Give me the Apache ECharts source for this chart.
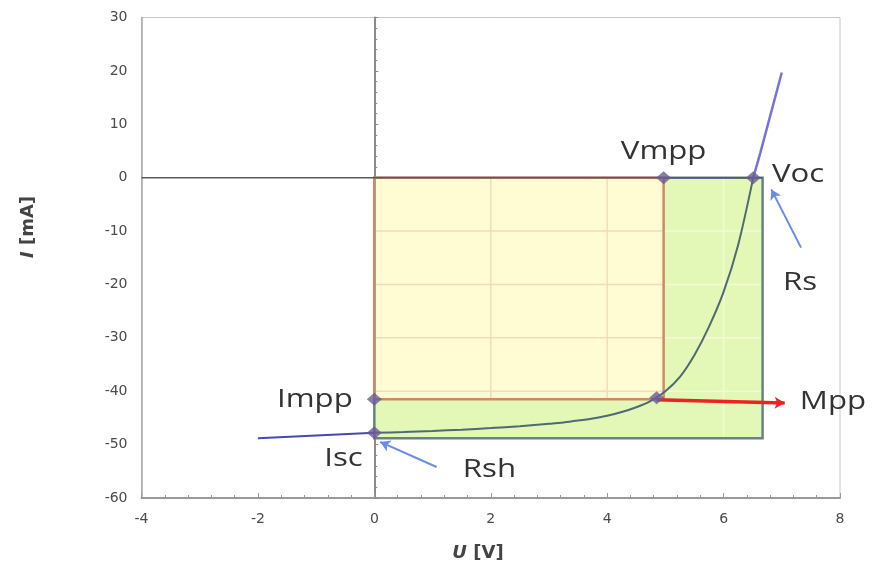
<!DOCTYPE html>
<html><head><meta charset="utf-8">
<script src="https://cdn.jsdelivr.net/npm/echarts@6/dist/echarts.min.js"></script>
<style>html,body{margin:0;padding:0;background:#fff}#c{width:878px;height:570px}</style>
</head><body><div id="c"></div>
<script>
// ---- data ----
const Voc = 6.51, Vmpp = 4.97, Isc = -47.8, Impp = -41.5;
const greenRight = 6.67, greenBottom = -48.8;
const xMin = -4, xMax = 8, yMin = -60, yMax = 30;
const gridXs = [2, 4, 6];
const gridYs = [-10, -20, -30, -40];
const curveLeft = [[-2, -48.8], [-1, -48.3], [0, -47.8]];
const curveInner = [[0, -47.8], [0.5, -47.65], [1, -47.45], [1.5, -47.2], [2, -46.9], [2.5, -46.55], [3, -46.1], [3.25, -45.85], [3.5, -45.5], [3.75, -45.1], [4.0, -44.6], [4.25, -43.9], [4.5, -43.0], [4.75, -41.8], [5.0, -40.0], [5.25, -37.3], [5.5, -33.2], [5.75, -27.9], [6.0, -21.4], [6.25, -12.6], [6.51, 0]];
const curveUpper = [[6.51, 0], [6.63, 4.6], [7.0, 19.7]];
const keyPoints = [[0, Impp], [0, Isc], [4.85, -41.2], [Vmpp, 0], [Voc, 0]];
const labelData = [
  [Vmpp, 4.9, 'Vmpp', 'center'],
  [6.83, 0.6, 'Voc', 'left'],
  [7.02, -19.6, 'Rs', 'left'],
  [7.31, -42.0, 'Mpp', 'left'],
  [-0.37, -41.5, 'Impp', 'right'],
  [-0.2, -52.6, 'Isc', 'right'],
  [1.52, -54.6, 'Rsh', 'left']
];
const mppArrow = [[4.85, -41.6], [7.05, -42.2]];
const rsArrow = [[7.33, -13.1], [6.82, -2.2]];
const rshArrow = [[1.07, -54.2], [0.1, -49.5]];

// ---- build ----
const rects = [
  [0, greenBottom, greenRight, 0, '#e3f7b6', '#66808c'],
  [0, Impp, Vmpp, 0, '#fffbd3', '#d08a62']
];
const gridSegs = [];
gridXs.forEach(gx => {
  if (gx < Vmpp) gridSegs.push([gx, Impp, gx, 0, '#f3dcb8']);
  else if (gx < greenRight) gridSegs.push([gx, greenBottom, gx, 0, '#f2fbd6']);
});
gridYs.forEach(gy => {
  if (gy > Impp) {
    gridSegs.push([0, gy, Vmpp, gy, '#f3dcb8']);
    gridSegs.push([Vmpp, gy, greenRight, gy, '#f2fbd6']);
  }
});

const chart = echarts.init(document.getElementById('c'), null, {renderer: 'canvas'});
const tickFont = {fontFamily: 'DejaVu Sans', fontSize: 14, color: '#4a4a4a'};
chart.setOption({
  animation: false,
  backgroundColor: '#fff',
  grid: {left: 141.5, right: 38, top: 17.5, bottom: 72, show: true, borderColor: '#c8c8c8', borderWidth: 1},
  xAxis: {
    type: 'value', min: xMin, max: xMax, interval: 2,
    axisLine: {onZero: false, lineStyle: {color: '#9a9a9a', width: 2}},
    axisTick: {inside: true, length: 5, lineStyle: {color: '#9a9a9a'}},
    minorTick: {show: true, splitNumber: 5, length: 3, lineStyle: {color: '#9a9a9a'}},
    splitLine: {show: false},
    axisLabel: Object.assign({margin: 14}, tickFont)
  },
  yAxis: [{
    type: 'value', min: yMin, max: yMax, interval: 10,
    axisLine: {show: true, onZero: false, lineStyle: {color: '#a8a8a8', width: 1.5}},
    axisTick: {show: false},
    splitLine: {show: false},
    axisLabel: Object.assign({margin: 14}, tickFont)
  }, {
    type: 'value', min: yMin, max: yMax, interval: 10, position: 'left',
    axisLine: {show: true, onZero: true, lineStyle: {color: '#8a8a8a', width: 2}},
    axisTick: {show: true, inside: true, length: 4, lineStyle: {color: '#8a8a8a'}},
    minorTick: {show: true, splitNumber: 5, length: 3, lineStyle: {color: '#8a8a8a'}},
    splitLine: {show: false},
    axisLabel: {show: false}
  }],
  graphic: [
    {type: 'text', x: 478, y: 553, style: {text: '{i|U} [V]', align: 'center', verticalAlign: 'middle',
      rich: {i: {fontStyle: 'italic', fontWeight: 'bold', fontSize: 18, fontFamily: 'DejaVu Sans', fill: '#444'}},
      font: 'bold 18px "DejaVu Sans"', fill: '#444'}},
    {type: 'text', x: 28, y: 227, rotation: Math.PI / 2, style: {text: '{i|I} [mA]', align: 'center', verticalAlign: 'middle',
      rich: {i: {fontStyle: 'italic', fontWeight: 'bold', fontSize: 18, fontFamily: 'DejaVu Sans', fill: '#444'}},
      font: 'bold 18px "DejaVu Sans"', fill: '#444'}}
  ],
  series: [
    {
      type: 'custom', z: 1, data: rects.map(r => r.slice(0, 4)),
      renderItem(params, api) {
        const r = rects[params.dataIndex];
        const a = api.coord([r[0], r[3]]), b = api.coord([r[2], r[1]]);
        return {type: 'rect', shape: {x: a[0], y: a[1], width: b[0] - a[0], height: b[1] - a[1]},
          style: {fill: r[4], stroke: null}};
      }
    },
    {
      type: 'custom', z: 2, data: gridSegs.map(s => s.slice(0, 4)),
      renderItem(params, api) {
        const s = gridSegs[params.dataIndex];
        const a = api.coord([s[0], s[1]]), b = api.coord([s[2], s[3]]);
        return {type: 'line', shape: {x1: a[0], y1: a[1], x2: b[0], y2: b[1]}, style: {stroke: s[4], lineWidth: 1.5}};
      }
    },
    {
      type: 'custom', z: 3, data: rects.map(r => r.slice(0, 4)),
      renderItem(params, api) {
        const r = rects[params.dataIndex];
        const a = api.coord([r[0], r[3]]), b = api.coord([r[2], r[1]]);
        return {type: 'rect', shape: {x: a[0], y: a[1], width: b[0] - a[0], height: b[1] - a[1]},
          style: {fill: null, stroke: r[5], lineWidth: 2.5}};
      }
    },
    {
      type: 'line', z: 4, data: [[xMin, 0], [greenRight, 0]], symbol: 'none',
      lineStyle: {color: '#5a5a5a', width: 1.5},
      markLine: {
        silent: true, symbol: ['none', 'arrow'], symbolSize: [9, 10], label: {show: false},
        lineStyle: {type: 'solid'},
        data: [
          [{coord: mppArrow[0], lineStyle: {color: '#ee2222', width: 3.5, type: 'solid'}}, {coord: mppArrow[1]}],
          [{coord: rsArrow[0], lineStyle: {color: '#6a8be6', width: 2, type: 'solid'}}, {coord: rsArrow[1]}],
          [{coord: rshArrow[0], lineStyle: {color: '#6a8be6', width: 2, type: 'solid'}}, {coord: rshArrow[1]}]
        ]
      }
    },
    {type: 'line', z: 5, data: curveLeft, symbol: 'none', lineStyle: {color: '#4848b4', width: 2}},
    {type: 'line', z: 5, data: curveInner, symbol: 'none', smooth: 0.3, lineStyle: {color: '#4f6a72', width: 2}},
    {type: 'line', z: 5, data: curveUpper, symbol: 'none', lineStyle: {color: '#7474d8', width: 2.5}},
    {type: 'scatter', z: 6, data: keyPoints, symbol: 'diamond', symbolSize: [15, 13], itemStyle: {color: '#6b5b93'}},
    {
      type: 'custom', z: 7, data: labelData.map(d => [d[0], d[1]]),
      renderItem(params, api) {
        const d = labelData[params.dataIndex];
        const p = api.coord([d[0], d[1]]);
        return {type: 'text', x: p[0], y: p[1], scaleX: 1.2,
          style: {text: d[2], fill: '#333', font: '26px "Open Sans"', align: d[3], verticalAlign: 'middle'}};
      }
    }
  ]
});
</script></body></html>
